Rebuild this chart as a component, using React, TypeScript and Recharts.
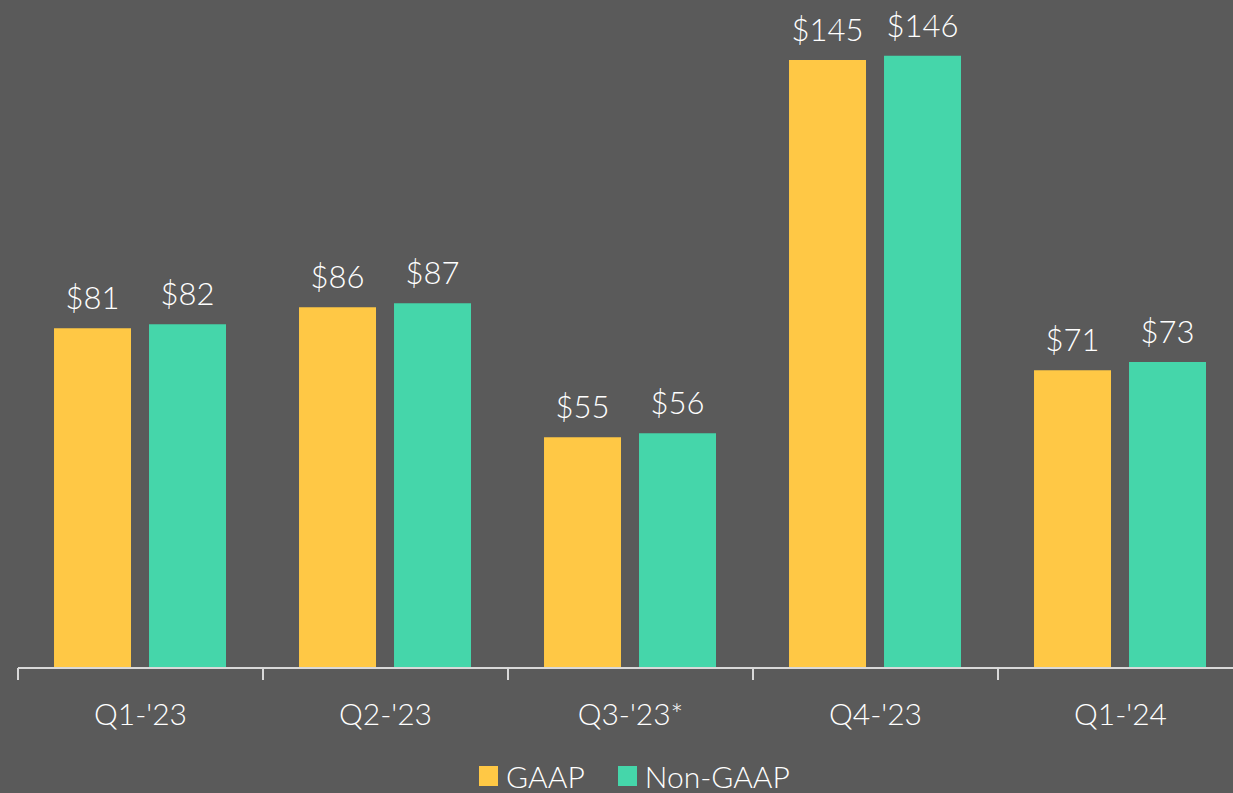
import React from "react";
import { BarChart, Bar, XAxis, YAxis, Legend, LabelList } from "recharts";

const categories = ["Q1-'23", "Q2-'23", "Q3-'23*", "Q4-'23", "Q1-'24"];
const gaapValues = [81, 86, 55, 145, 71];
const nonGaapValues = [82, 87, 56, 146, 73];
const seriesNames = ["GAAP", "Non-GAAP"];

const data = categories.map((c, i) => ({
  name: c,
  gaap: gaapValues[i],
  nonGaap: nonGaapValues[i],
}));

const BG = "#5a5a5a";
const YELLOW = "#ffc845";
const TEAL = "#45d6aa";
const AXIS = "#d9d9d9";
const FONT = "Lato, 'Open Sans', sans-serif";

const CHART_W = 1260;
const MARGIN = { top: 39, right: 17, bottom: 0, left: 18 };
const HALF_BAND = (CHART_W - MARGIN.left - MARGIN.right) / categories.length / 2;

const CategoryTick = (props: any) => {
  const { x, y, payload, index } = props;
  const half = payload && payload.offset ? payload.offset : HALF_BAND;
  const axisY = y - 34;
  return (
    <g>
      <line x1={x - half} x2={x - half} y1={axisY} y2={axisY + 12} stroke={AXIS} strokeWidth={2} />
      {index === categories.length - 1 && (
        <line x1={x + half} x2={x + half} y1={axisY} y2={axisY + 12} stroke={AXIS} strokeWidth={2} />
      )}
      <text
        x={x}
        y={axisY + 57}
        textAnchor="middle"
        fill="#ffffff"
        fontSize={30}
        fontFamily={FONT}
        fontWeight={300}
      >
        {payload.value}
      </text>
    </g>
  );
};

const renderLegend = () => (
  <div
    style={{
      display: "flex",
      justifyContent: "center",
      alignItems: "center",
      height: 30,
      fontFamily: FONT,
      fontWeight: 300,
      fontSize: 30,
      color: "#ffffff",
      paddingLeft: 36,
    }}
  >
    {[YELLOW, TEAL].map((col, i) => (
      <div key={i} style={{ display: "flex", alignItems: "center", marginRight: i === 0 ? 33 : 0 }}>
        <div style={{ width: 19, height: 20, background: col, marginRight: 8 }} />
        <span style={{ lineHeight: "30px" }}>{seriesNames[i]}</span>
      </div>
    ))}
  </div>
);

export default function App() {
  return (
    <div
      style={{
        position: "absolute",
        left: 0,
        top: 0,
        width: 1233,
        height: 793,
        overflow: "hidden",
        background: BG,
      }}
    >
      <BarChart
        width={CHART_W}
        height={793}
        data={data}
        margin={MARGIN}
        barCategoryGap="14.7%"
        barGap={18}
      >
        <YAxis hide domain={[0, 150]} />
        <XAxis
          dataKey="name"
          height={95}
          axisLine={{ stroke: AXIS, strokeWidth: 2 }}
          tickLine={false}
          tickSize={12}
          tickMargin={22}
          tick={<CategoryTick />}
          interval={0}
        />
        <Legend
          verticalAlign="bottom"
          content={renderLegend}
          wrapperStyle={{ left: 0, width: 1233, height: 30, bottom: 2 }}
        />
        <Bar dataKey="gaap" name={seriesNames[0]} fill={YELLOW} isAnimationActive={false}>
          <LabelList
            dataKey="gaap"
            position="top"
            offset={19}
            formatter={(v: number) => `$${v}`}
            style={{ fill: "#ffffff", fontSize: 31, fontFamily: FONT, fontWeight: 300 }}
          />
        </Bar>
        <Bar dataKey="nonGaap" name={seriesNames[1]} fill={TEAL} isAnimationActive={false}>
          <LabelList
            dataKey="nonGaap"
            position="top"
            offset={19}
            formatter={(v: number) => `$${v}`}
            style={{ fill: "#ffffff", fontSize: 31, fontFamily: FONT, fontWeight: 300 }}
          />
        </Bar>
      </BarChart>
    </div>
  );
}
